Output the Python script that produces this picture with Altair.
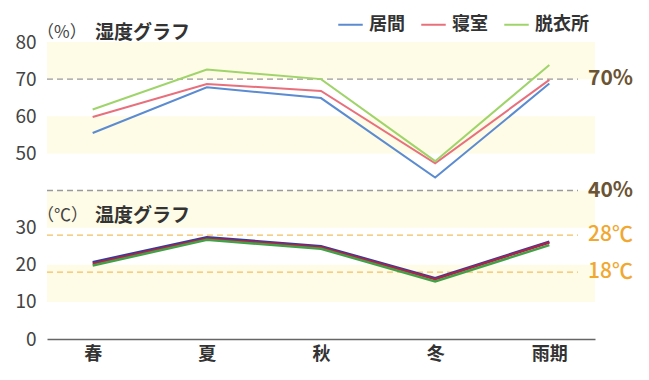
import altair as alt
import pandas as pd

seasons = ["春", "夏", "秋", "冬", "雨期"]
series = ["居間", "寝室", "脱衣所"]

hum_living = [55.5, 67.8, 64.9, 43.5, 68.8]
hum_bed = [59.8, 68.7, 66.8, 47.3, 69.8]
hum_dress = [61.8, 72.6, 70.0, 47.9, 73.8]

temp_living = [20.7, 27.4, 25.0, 16.4, 26.2]
temp_bed = [20.3, 27.1, 24.7, 16.1, 26.0]
temp_dress = [19.8, 26.7, 24.3, 15.5, 25.3]

hum_colors = ["#5b8bd0", "#e8707c", "#9fd46a"]
temp_colors = ["#2d3f9a", "#b0204c", "#43a047"]

band_lo = [70, 50, 30, 10]
band_hi = [80, 60, 40, 20]

ref_vals = [70, 40, 28, 18]
ref_labels = ["70%", "40%", "28℃", "18℃"]
ref_kind = ["h", "h", "t", "t"]

y_ticks = [0, 10, 20, 30, 50, 60, 70, 80]

W, H = 548, 297
FONT = "Noto Sans CJK JP"

hum_df = pd.DataFrame({
    "season": seasons * 3,
    "series": [s for s in series for _ in seasons],
    "value": hum_living + hum_bed + hum_dress,
})
temp_df = pd.DataFrame({
    "season": seasons * 3,
    "series": [s for s in series for _ in seasons],
    "value": temp_living + temp_bed + temp_dress,
})
band_df = pd.DataFrame({"lo": band_lo, "hi": band_hi})
ref_df = pd.DataFrame({"v": ref_vals, "label": ref_labels, "kind": ref_kind})

yscale = alt.Scale(domain=[0, 80], nice=False, zero=True)
xscale = alt.Scale(type="point", padding=0.4, domain=seasons)

xenc = alt.X("season:N", scale=xscale, sort=seasons, title=None,
             axis=alt.Axis(labelAngle=0, ticks=False, domainColor="#666666",
                           domainWidth=1.5, labelFont=FONT, labelFontSize=18,
                           labelFontWeight="bold", labelColor="#333333",
                           labelPadding=6, grid=False))
yaxis = alt.Axis(values=y_ticks, ticks=False, domain=False, grid=False,
                 labelFont=FONT, labelFontSize=19, labelColor="#444444",
                 labelPadding=11, title=None)

bands = alt.Chart(band_df).mark_rect(color="#fefbe6").encode(
    x=alt.value(0), x2=alt.value(W),
    y=alt.Y("lo:Q", scale=yscale, axis=yaxis), y2="hi:Q")

rules = alt.Chart(ref_df).mark_rule(strokeDash=[6, 4], strokeWidth=1.3).encode(
    x=alt.value(0), x2=alt.value(531),
    y=alt.Y("v:Q", scale=yscale),
    color=alt.Color("kind:N", scale=alt.Scale(domain=["h", "t"], range=["#9a9a9a", "#f3c060"]), legend=None))

ref_text_h = alt.Chart(ref_df[ref_df.kind == "h"]).mark_text(
    align="left", baseline="middle", font=FONT, fontSize=21, fontWeight="bold", color="#6b5433"
).encode(x=alt.value(541), y=alt.Y("v:Q", scale=yscale), text="label:N")

ref_text_t = alt.Chart(ref_df[ref_df.kind == "t"]).mark_text(
    align="left", baseline="middle", font=FONT, fontSize=21, fontWeight=500, color="#f0a830"
).encode(x=alt.value(541), y=alt.Y("v:Q", scale=yscale), text="label:N")

hum_lines = alt.Chart(hum_df).mark_line(strokeWidth=2).encode(
    x=xenc,
    y=alt.Y("value:Q", scale=yscale),
    color=alt.Color("series:N", sort=series,
                    scale=alt.Scale(domain=series, range=hum_colors),
                    legend=alt.Legend(orient="none", legendX=290, legendY=-31,
                                      direction="horizontal", title=None,
                                      symbolType="stroke", symbolSize=600,
                                      symbolStrokeWidth=2, labelFont=FONT,
                                      labelFontSize=18, labelFontWeight="bold",
                                      labelColor="#333333", columnPadding=12,
                                      labelOffset=5)),
    detail="series:N")

temp_lines = alt.Chart(temp_df).mark_line(strokeWidth=2.5).encode(
    x=xenc,
    y=alt.Y("value:Q", scale=yscale),
    stroke=alt.Stroke("series:N", sort=series,
                      scale=alt.Scale(domain=series, range=temp_colors), legend=None),
    detail="series:N")

titles_df = pd.DataFrame({
    "y": [82.4, 82.4, 33.2, 33.2],
    "t": ["（%）", "湿度グラフ", "（℃）", "温度グラフ"],
    "w": ["normal", "bold", "normal", "bold"],
})
t_small = alt.Chart(titles_df[titles_df.w == "normal"]).mark_text(
    align="left", baseline="middle", font=FONT, fontSize=17, color="#444444"
).encode(x=alt.value(-10), y=alt.Y("y:Q", scale=yscale), text="t:N")
t_big = alt.Chart(titles_df[titles_df.w == "bold"]).mark_text(
    align="left", baseline="middle", font=FONT, fontSize=19, fontWeight="bold", color="#333333"
).encode(x=alt.value(48), y=alt.Y("y:Q", scale=yscale), text="t:N")

chart = alt.layer(bands, rules, ref_text_h, ref_text_t, hum_lines, temp_lines, t_small, t_big).resolve_scale(
    color="independent", stroke="independent"
).properties(
    width=W, height=H,
    autosize=alt.AutoSizeParams(type="none"),
    padding={"left": 39, "top": 34, "right": 46, "bottom": 33},
).configure_view(stroke=None)

chart.save("out.html", embed_options={"renderer": "svg", "actions": False})
